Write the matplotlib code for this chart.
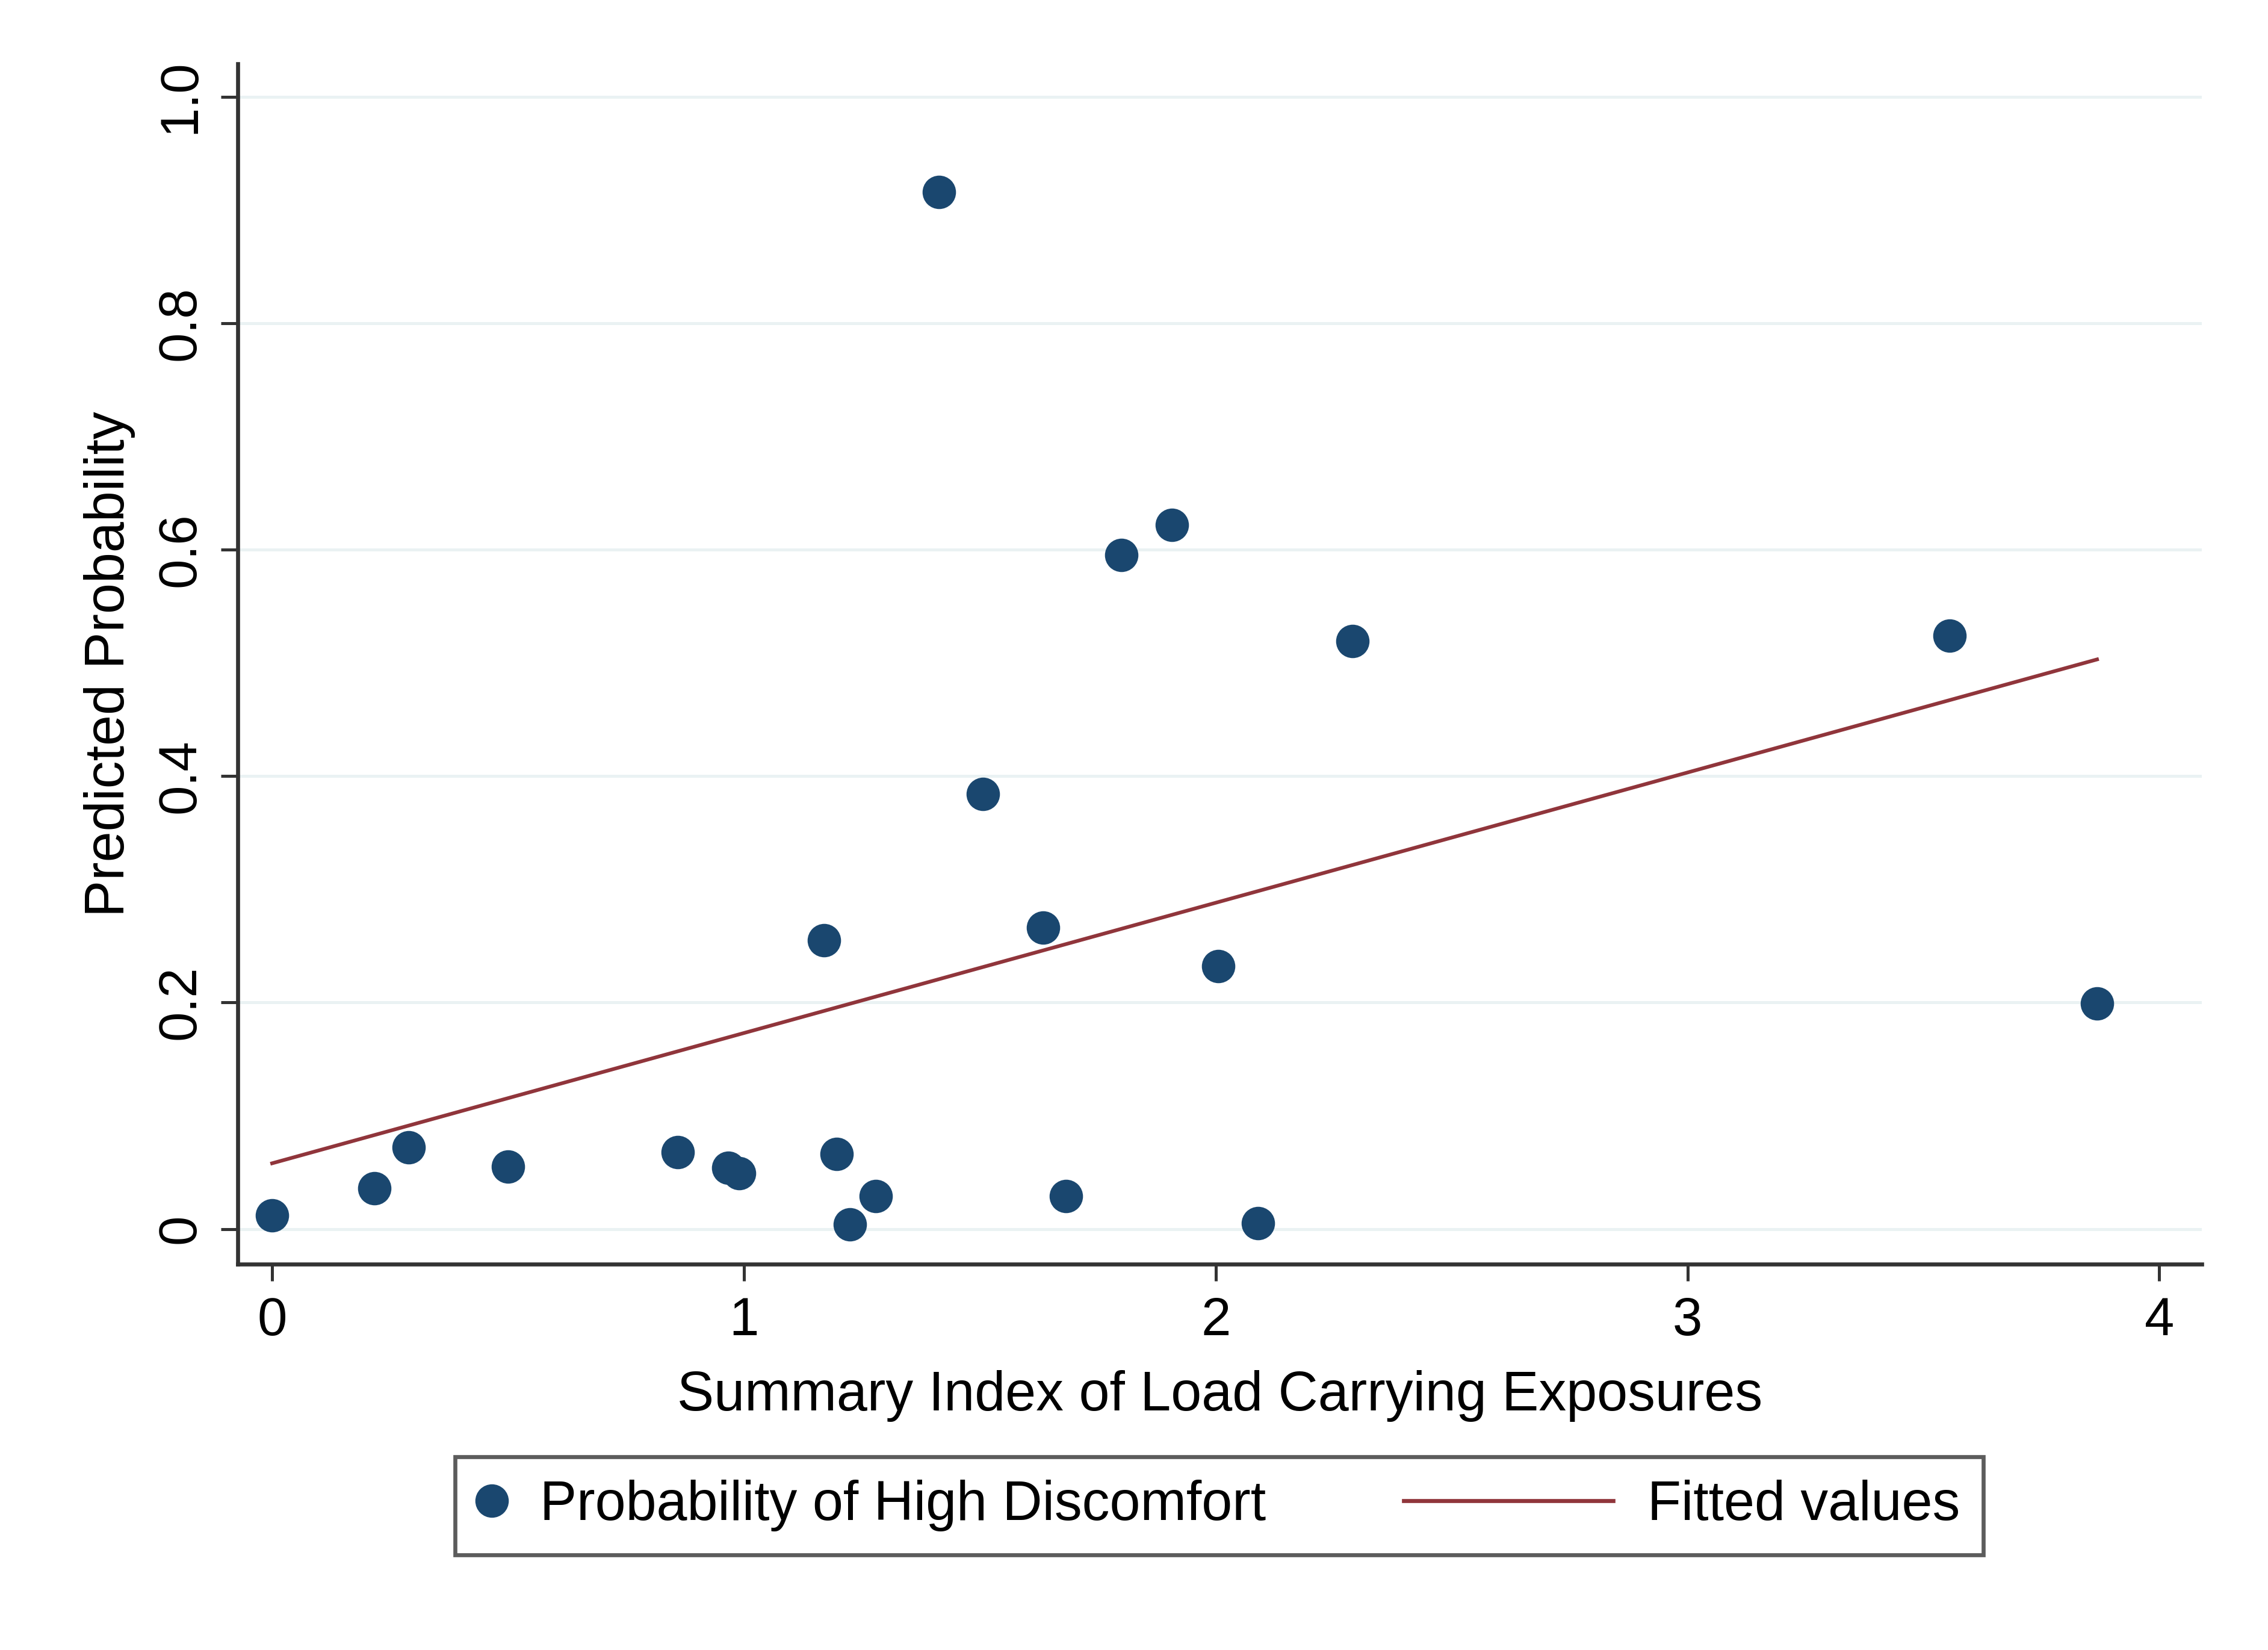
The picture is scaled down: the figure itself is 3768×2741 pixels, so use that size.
import numpy as np
import matplotlib
matplotlib.use("Agg")
import matplotlib.pyplot as plt
from matplotlib.lines import Line2D
from matplotlib.legend_handler import HandlerBase

plt.rcParams["font.family"] = ["Liberation Sans", "DejaVu Sans"]

# points
load_index = [0.0, 0.217, 0.29, 0.50, 0.86, 0.967, 0.99, 1.17, 1.197, 1.224,
              1.28, 1.414, 1.506, 1.634, 1.683, 1.80, 1.907, 2.005, 2.09,
              2.29, 3.556, 3.868]
prob_high = [0.012, 0.036, 0.072, 0.055, 0.068, 0.054, 0.049, 0.255, 0.066,
             0.004, 0.029, 0.916, 0.384, 0.266, 0.029, 0.595, 0.622, 0.232,
             0.005, 0.519, 0.524, 0.199]

# fitted line ends
fit_x = [0.0, 3.868]
fit_y = [0.058, 0.503]

x_ticks = [0, 1, 2, 3, 4]
y_ticks = [0, 0.2, 0.4, 0.6, 0.8, 1.0]
y_tick_labels = ["0", "0.2", "0.4", "0.6", "0.8", "1.0"]

navy = "#1A476F"
maroon = "#90353B"
axis_col = "#333333"
fsize = 33


class LongLine(HandlerBase):
    # line key that reaches back to the left of its handle box
    def create_artists(self, legend, orig_handle, xdescent, ydescent,
                       width, height, fontsize, trans):
        y = (height - ydescent) / 2
        x1 = -xdescent + width
        ln = Line2D([x1 - 3.8 * fontsize, x1], [y, y],
                    color=orig_handle.get_color(),
                    lw=orig_handle.get_linewidth(), transform=trans)
        return [ln]


fig = plt.figure(figsize=(18.84, 13.705), dpi=200)
ax = fig.add_axes([0.1048, 0.2339, 0.866, 0.7274])

for yv in y_ticks:
    ax.axhline(yv, color="#EAF2F3", lw=1.8, zorder=0)

ax.plot(fit_x, fit_y, color=maroon, lw=2.2, zorder=2)
ax.plot(load_index, prob_high, "o", color=navy, markersize=20, zorder=3,
        markeredgewidth=0)

ax.set_xlim(-0.073, 4.09)
ax.set_ylim(-0.031, 1.029)
ax.set_xticks(x_ticks)
ax.set_xticklabels([str(v) for v in x_ticks])
ax.set_yticks(y_ticks)
ax.set_yticklabels(y_tick_labels, rotation=90)
for lab in ax.get_yticklabels():
    lab.set_va("center")

for side in ["top", "right"]:
    ax.spines[side].set_visible(False)
for side in ["left", "bottom"]:
    ax.spines[side].set_color(axis_col)
    ax.spines[side].set_linewidth(2.4)

ax.tick_params(axis="both", direction="out", length=10, width=1.8,
               color=axis_col, labelsize=32, pad=9)

ax.set_xlabel("Summary Index of Load Carrying Exposures", fontsize=fsize,
              labelpad=14)
ax.set_ylabel("Predicted Probability", fontsize=fsize, labelpad=12)

dot = Line2D([], [], marker="o", color=navy, linestyle="none", markersize=20,
             markeredgewidth=0)
fit_line = Line2D([], [], color=maroon, lw=2.4)
leg = fig.legend([dot, fit_line],
                 ["Probability of High Discomfort", "Fitted values"],
                 handler_map={fit_line: LongLine()},
                 loc="center", bbox_to_anchor=(0.5375, 0.0875), ncol=2,
                 fontsize=fsize, frameon=True, fancybox=False,
                 edgecolor=axis_col, handlelength=0.5, handletextpad=0.62,
                 columnspacing=5.8, borderpad=0.42)
leg.get_frame().set_linewidth(2.4)

fig.savefig("out.png", dpi=200, facecolor="white")
